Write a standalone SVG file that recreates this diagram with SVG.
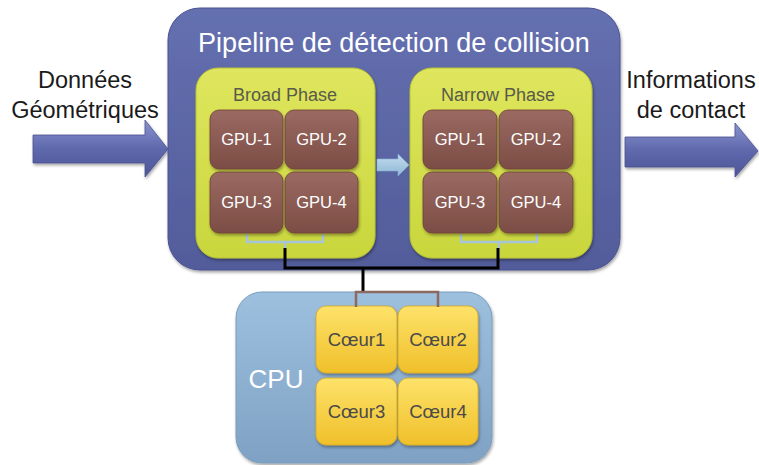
<svg xmlns="http://www.w3.org/2000/svg" width="759" height="465" viewBox="0 0 759 465">
<defs>
<linearGradient id="gMain" x1="0" y1="0" x2="0" y2="1"><stop offset="0" stop-color="#6570b0"/><stop offset="1" stop-color="#525c9a"/></linearGradient>
<linearGradient id="gPhase" x1="0" y1="0" x2="0" y2="1"><stop offset="0" stop-color="#dfe65e"/><stop offset="1" stop-color="#c9d63c"/></linearGradient>
<linearGradient id="gGpu" x1="0" y1="0" x2="0" y2="1"><stop offset="0" stop-color="#9a6a62"/><stop offset="1" stop-color="#7c4d45"/></linearGradient>
<linearGradient id="gCpu" x1="0" y1="0" x2="0" y2="1"><stop offset="0" stop-color="#9dc0df"/><stop offset="1" stop-color="#7fa2c4"/></linearGradient>
<linearGradient id="gCore" x1="0" y1="0" x2="0" y2="1"><stop offset="0" stop-color="#fde26a"/><stop offset="1" stop-color="#f0c02a"/></linearGradient>
<linearGradient id="gArrow" x1="0" y1="0" x2="0" y2="1"><stop offset="0" stop-color="#8a93cf"/><stop offset="0.5" stop-color="#5f69ad"/><stop offset="1" stop-color="#4c5596"/></linearGradient>
<linearGradient id="gSmall" x1="0" y1="0" x2="0" y2="1"><stop offset="0" stop-color="#c2dcee"/><stop offset="1" stop-color="#8fb8d6"/></linearGradient>
<filter id="sh" x="-10%" y="-10%" width="130%" height="130%"><feDropShadow dx="1" dy="2" stdDeviation="1.5" flood-color="#000" flood-opacity="0.35"/></filter>
</defs>
<style>
.lbl{font-family:"Liberation Sans",Arial,sans-serif;}
.gpu{fill:url(#gGpu);stroke:#6e4038;stroke-width:0.8;}
.gpuT{font-family:"Liberation Sans",Arial,sans-serif;font-size:16.5px;fill:#ffffff;text-anchor:middle;}
.core{fill:url(#gCore);stroke:#d8a820;stroke-width:0.8;}
.coreT{font-family:"Liberation Sans",Arial,sans-serif;font-size:18.5px;fill:#4a4a4a;text-anchor:middle;}
.phase{fill:url(#gPhase);stroke:#b8c232;stroke-width:1;}
.phT{font-family:"Liberation Sans",Arial,sans-serif;font-size:18px;fill:#5a5a4a;text-anchor:middle;}
.ext{font-family:"Liberation Sans",Arial,sans-serif;font-size:23.5px;fill:#1a1a1a;text-anchor:middle;}
.brk{fill:none;stroke:#a6c4da;stroke-width:2.5;}
.blk{fill:none;stroke:#000;stroke-width:3;}
.brn{fill:none;stroke:#8c6a62;stroke-width:2.5;}
</style>

<g id="input-arrow">
<polygon points="33,135 145,135 145,120 168,149 145,177 145,163 33,163" fill="url(#gArrow)" stroke="#4a5290" stroke-width="0.8" filter="url(#sh)"/>
<text class="ext" x="85" y="88">Données</text>
<text class="ext" x="85" y="118">Géométriques</text>
</g>

<g id="pipeline">
<rect x="168" y="8" width="452" height="262" rx="32" fill="url(#gMain)" stroke="#4a5290" stroke-width="1" filter="url(#sh)"/>
<text class="lbl" x="394" y="52" font-size="27" fill="#ffffff" text-anchor="middle">Pipeline de détection de collision</text>
</g>

<g id="output-arrow">
<polygon points="625,137 735,137 735,123 758,151 735,177 735,167 625,167" fill="url(#gArrow)" stroke="#4a5290" stroke-width="0.8" filter="url(#sh)"/>
<text class="ext" x="691" y="88">Informations</text>
<text class="ext" x="691" y="118">de contact</text>
</g>

<g id="broad-phase">
<rect class="phase" x="196" y="68" width="179" height="190" rx="22" filter="url(#sh)"/>
<text class="phT" x="285" y="101">Broad Phase</text>
<path class="brk" d="M247,234 V242 H323 V234 M285,242 V250"/>
</g>
<g id="bp-gpu1"><rect class="gpu" x="210" y="110" width="73" height="59" rx="9" filter="url(#sh)"/><text class="gpuT" x="246.5" y="145">GPU-1</text></g>
<g id="bp-gpu2"><rect class="gpu" x="285" y="110" width="73" height="59" rx="9" filter="url(#sh)"/><text class="gpuT" x="321.5" y="145">GPU-2</text></g>
<g id="bp-gpu3"><rect class="gpu" x="210" y="172" width="73" height="61" rx="9" filter="url(#sh)"/><text class="gpuT" x="246.5" y="208">GPU-3</text></g>
<g id="bp-gpu4"><rect class="gpu" x="285" y="172" width="73" height="61" rx="9" filter="url(#sh)"/><text class="gpuT" x="321.5" y="208">GPU-4</text></g>

<g id="narrow-phase">
<rect class="phase" x="410" y="68" width="182" height="190" rx="22" filter="url(#sh)"/>
<text class="phT" x="498" y="101">Narrow Phase</text>
<path class="brk" d="M461,234 V242 H537 V234 M499,242 V250"/>
</g>
<g id="np-gpu1"><rect class="gpu" x="423" y="110" width="74" height="59" rx="9" filter="url(#sh)"/><text class="gpuT" x="460" y="145">GPU-1</text></g>
<g id="np-gpu2"><rect class="gpu" x="499" y="110" width="74" height="59" rx="9" filter="url(#sh)"/><text class="gpuT" x="536" y="145">GPU-2</text></g>
<g id="np-gpu3"><rect class="gpu" x="423" y="172" width="74" height="61" rx="9" filter="url(#sh)"/><text class="gpuT" x="460" y="208">GPU-3</text></g>
<g id="np-gpu4"><rect class="gpu" x="499" y="172" width="74" height="61" rx="9" filter="url(#sh)"/><text class="gpuT" x="536" y="208">GPU-4</text></g>

<g id="cpu">
<rect x="236" y="292" width="256" height="171" rx="26" fill="url(#gCpu)" stroke="#7a9cbd" stroke-width="1" filter="url(#sh)"/>
<text class="lbl" x="276" y="388" font-size="26" fill="#ffffff" text-anchor="middle">CPU</text>
</g>
<g id="coeur1"><rect class="core" x="316" y="306" width="81" height="67" rx="10" filter="url(#sh)"/><text class="coreT" x="356.5" y="346">Cœur1</text></g>
<g id="coeur2"><rect class="core" x="398" y="306" width="80" height="67" rx="10" filter="url(#sh)"/><text class="coreT" x="438" y="346">Cœur2</text></g>
<g id="coeur3"><rect class="core" x="316" y="378" width="81" height="67" rx="10" filter="url(#sh)"/><text class="coreT" x="356.5" y="418">Cœur3</text></g>
<g id="coeur4"><rect class="core" x="398" y="378" width="80" height="67" rx="10" filter="url(#sh)"/><text class="coreT" x="438" y="418">Cœur4</text></g>

<g id="connectors">
<polygon points="377,159 398,159 398,154 409,165 398,176 398,171 377,171" fill="url(#gSmall)" stroke="#86afcf" stroke-width="0.6"/>
<path class="blk" d="M285,248 V268 H498 V248 M363,268 V292"/>
<path class="brn" d="M356,307 V292 H438 V307"/>
</g>
</svg>
